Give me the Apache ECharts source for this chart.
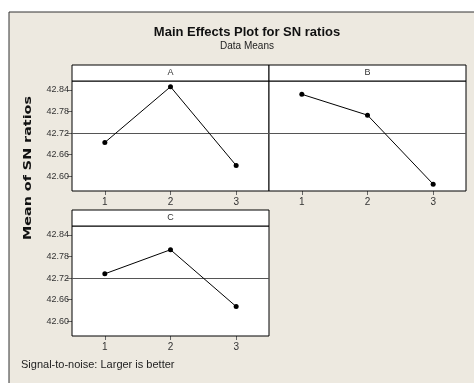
<!DOCTYPE html>
<html><head><meta charset="utf-8">
<style>html,body{margin:0;padding:0;background:#fff;}#c{width:474px;height:383px;}</style>
<script src="https://cdn.jsdelivr.net/npm/echarts@6/dist/echarts.min.js"></script>
</head><body><div id="c"></div>
<script>
const levels = ['1','2','3'];
const factorNames = ['A','B','C'];
const valuesA = [42.694, 42.849, 42.630];
const valuesB = [42.828, 42.770, 42.578];
const valuesC = [42.732, 42.799, 42.641];
const grandMean = 42.7225;
const yTicks = [42.60, 42.66, 42.72, 42.78, 42.84];
const yMin = 42.559, yMax = 42.865;

const FONT = '"Liberation Sans Narrow","Arial Narrow","Liberation Sans",sans-serif';
const chart = echarts.init(document.getElementById('c'));
const grids = [
  {left:72, top:81, width:197, height:110},
  {left:269, top:81, width:197, height:110},
  {left:72, top:226, width:197, height:110}
];
const seriesVals = [valuesA, valuesB, valuesC];
const option = {
  animation:false,
  backgroundColor:'#ffffff',
  grid: grids.map(g => Object.assign({show:true, backgroundColor:'#ffffff', borderColor:'#000', borderWidth:1, z:3}, g)),
  xAxis: grids.map((g,i)=>({
    type:'category', gridIndex:i, data:levels, boundaryGap:true,
    axisLine:{show:false},
    axisTick:{show:true, alignWithLabel:true, length:4, lineStyle:{color:'#666'}},
    axisLabel:{color:'#333', fontFamily:FONT, fontSize:10, margin:6},
    splitLine:{show:false}
  })),
  yAxis: grids.map((g,i)=>({
    type:'value', gridIndex:i, min:yMin, max:yMax,
    axisLine:{show:false},
    axisTick:{show:i!==1, length:5, lineStyle:{color:'#666'}, customValues:yTicks},
    axisLabel:{show:i!==1, color:'#333', fontFamily:FONT, fontSize:9, margin:3, customValues:yTicks,
      formatter:v=>v.toFixed(2)},
    splitLine:{show:false}
  })),
  series: seriesVals.map((vals,i)=>({
    type:'line', xAxisIndex:i, yAxisIndex:i, data:vals,
    symbol:'circle', symbolSize:5, z:5,
    lineStyle:{color:'#000', width:1}, itemStyle:{color:'#000'},
    markLine:{silent:true, symbol:'none', label:{show:false},
      lineStyle:{color:'#555', width:1, type:'solid'},
      data:[{yAxis:grandMean}]}
  })),
  graphic:[
    {type:'rect', shape:{x:9, y:12, width:470, height:380}, style:{fill:'#EDE9E0', stroke:'#333', lineWidth:1}, z:-10},
    ...grids.map((g,i)=>({type:'rect', shape:{x:g.left, y:g.top-16, width:g.width, height:16},
      style:{fill:'#fff', stroke:'#000', lineWidth:1}, z:10})),
    ...grids.map((g,i)=>({type:'text', x:g.left+g.width/2, y:g.top-8,
      style:{text:factorNames[i], fill:'#333', font:'9px '+FONT, textAlign:'center', textVerticalAlign:'middle'}, z:11})),
    {type:'text', x:247, y:32, style:{text:'Main Effects Plot for SN ratios', fill:'#111', font:'bold 13px '+FONT, textAlign:'center', textVerticalAlign:'middle'}, z:11},
    {type:'text', x:247, y:46, style:{text:'Data Means', fill:'#222', font:'10px '+FONT, textAlign:'center', textVerticalAlign:'middle'}, z:11},
    {type:'text', x:28, y:168, rotation:Math.PI/2, scaleX:1.3, style:{text:'Mean of SN ratios', fill:'#111', font:'bold 11px "DejaVu Sans",sans-serif', textAlign:'center', textVerticalAlign:'middle'}, z:11},
    {type:'text', x:21, y:365, style:{text:'Signal-to-noise: Larger is better', fill:'#222', font:'11px '+FONT, textAlign:'left', textVerticalAlign:'middle'}, z:11}
  ]
};
chart.setOption(option);
</script></body></html>
